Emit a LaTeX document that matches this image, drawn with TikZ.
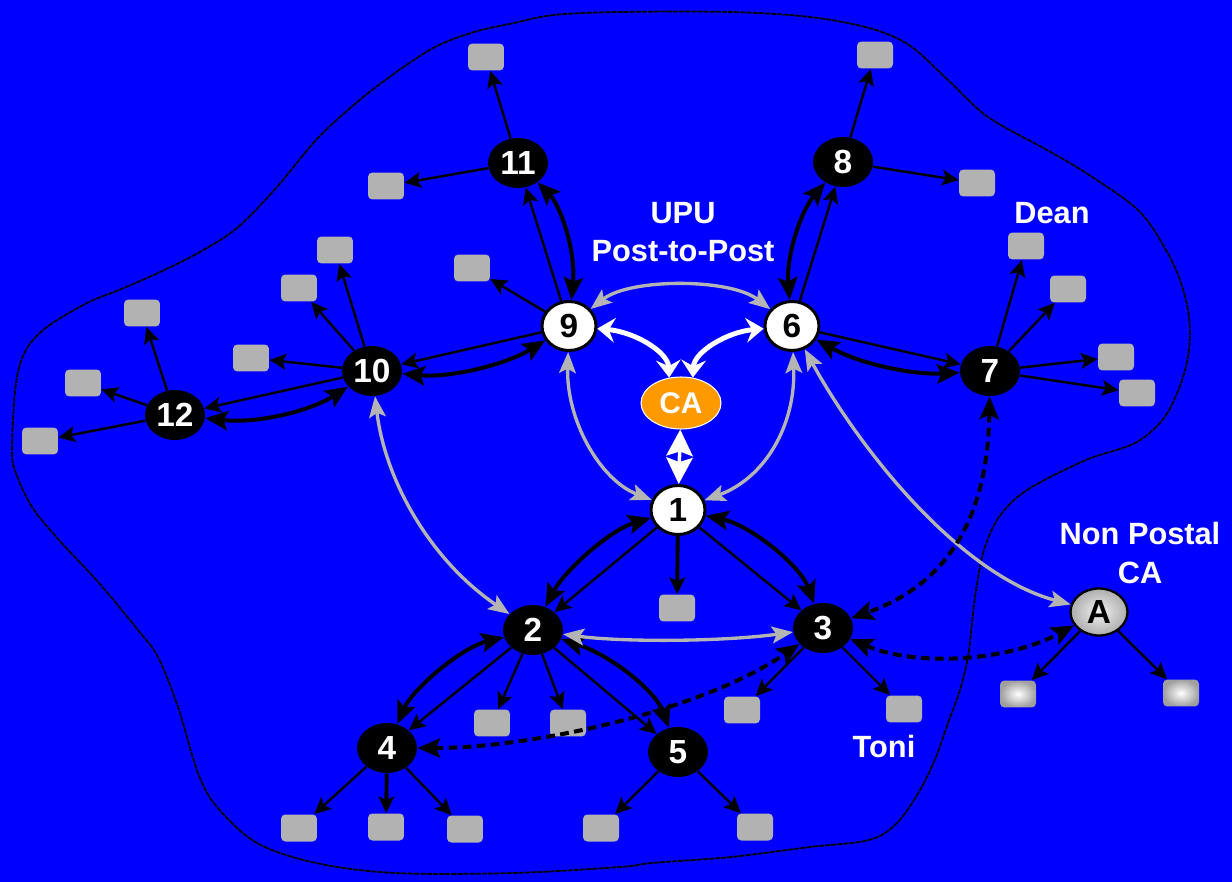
\documentclass[tikz,border=0pt]{standalone}
\usepackage{fontspec}
\setmainfont{Liberation Sans}
\usepackage{pgf,tikz}
\usetikzlibrary{arrows.meta}
\usetikzlibrary{shapes.geometric}

\definecolor{upublue}{RGB}{0,0,255}
\definecolor{boxgray}{RGB}{178,178,178}
\definecolor{trustgray}{RGB}{180,180,180}
\definecolor{caorange}{RGB}{255,153,0}

\begin{document}
\begin{tikzpicture}[x=0.02cm,y=-0.02cm,
  office/.style={ellipse,fill=black,text=white,minimum width=1.2cm,minimum height=1cm,inner sep=0pt,font=\fontsize{19}{19}\selectfont\bfseries},
  hub/.style={ellipse,fill=white,draw=black,line width=1.7pt,text=black,minimum width=1.08cm,minimum height=0.98cm,inner sep=0pt,font=\fontsize{19}{19}\selectfont\bfseries},
  caoval/.style={ellipse,fill=caorange,draw=white,line width=0.6pt,text=white,minimum width=1.6cm,minimum height=1.04cm,inner sep=0pt,font=\fontsize{17}{17}\selectfont\bfseries},
  foreign/.style={ellipse,inner color=gray!10,outer color=gray!65,draw=black,line width=1.3pt,minimum width=1.14cm,minimum height=0.94cm,inner sep=0pt,font=\fontsize{19}{19}\selectfont\bfseries},
  pc/.style={rectangle,rounded corners=2.5pt,fill=boxgray,minimum width=0.72cm,minimum height=0.54cm,inner sep=0pt},
  pcglow/.style={rectangle,rounded corners=2.5pt,inner color=white,outer color=gray!75,minimum width=0.72cm,minimum height=0.54cm,inner sep=0pt},
  lbl/.style={text=white,align=center,font=\fontsize{17.5}{22}\selectfont\bfseries},
  leaf/.style={-{Stealth[length=9.5pt,width=9pt,inset=2pt]},line width=1.4pt},
  pair/.style={{Stealth[length=13pt,width=11pt,inset=2.5pt]}-{Stealth[length=13pt,width=11pt,inset=2.5pt]},line width=2.3pt},
  trust/.style={{Stealth[length=12pt,width=9.5pt,inset=2.5pt]}-{Stealth[length=12pt,width=9.5pt,inset=2.5pt]},line width=1.9pt,draw=trustgray},
  crossca/.style={{Stealth[length=13pt,width=11pt,inset=2.5pt]}-{Stealth[length=13pt,width=11pt,inset=2.5pt]},line width=2.3pt,dash pattern=on 5pt off 3pt},
  rootlink/.style={{Stealth[length=10pt,width=14pt,inset=3.5pt]}-{Stealth[length=10pt,width=14pt,inset=3.5pt]},line width=2.8pt,draw=white}]

\fill[upublue] (0,0) rectangle (1232,882);
\useasboundingbox (0,0) rectangle (1232,882);

% postal domain
\draw[line width=1pt,dash pattern=on 3pt off 0.5pt] plot[smooth cycle,tension=0.55] coordinates {
  (12,450) (16,383) (26,350) (47,327) (87,303) (119,290) (158,273) (198,253) (237,228)
  (277,187) (316,140) (356,103) (395,73) (435,47) (474,32) (514,23) (554,15) (620,12)
  (731,12) (810,17) (869,28) (909,45) (948,80) (988,117) (1047,150) (1086,173) (1138,210)
  (1166,250) (1181,283) (1189,317) (1189,350) (1181,383) (1164,418) (1135,443) (1086,460)
  (1027,490) (999,517) (984,550) (976,590) (972,623) (968,657) (960,690) (948,723) (936,757)
  (920,790) (897,823) (869,840) (810,847) (731,857) (652,863) (620,867) (514,873) (395,873)
  (316,863) (257,843) (217,807) (198,773) (178,707) (158,657) (138,630) (99,583) (59,540)
  (32,507) (16,473)};

\node[hub] (n9) at (569,326) {9};
\node[hub] (n6) at (792,326) {6};
\node[hub] (n1) at (678,510) {1};
\node[caoval] (ca) at (681,403) {CA};
\node[office] (n11) at (518,163) {11};
\node[office] (n8) at (843,162) {8};
\node[office] (n10) at (372,371) {10};
\node[office] (n12) at (175,415) {12};
\node[office] (n7) at (990,371) {7};
\node[office] (n2) at (533,630) {2};
\node[office] (n3) at (823,628) {3};
\node[office] (n4) at (387,748) {4};
\node[office] (n5) at (678,752) {5};
\node[foreign] (na) at (1099,612) {A};

\node[pc] (b11a) at (486,57) {};
\node[pc] (b11b) at (386,186) {};
\node[pc] (b9) at (472,268) {};
\node[pc] (b10a) at (335,250) {};
\node[pc] (b10b) at (299,288) {};
\node[pc] (b10c) at (251,358) {};
\node[pc] (b12a) at (142,313) {};
\node[pc] (b12b) at (83,383) {};
\node[pc] (b12c) at (40,441) {};
\node[pc] (b8a) at (875,55) {};
\node[pc] (b8b) at (977,183) {};
\node[pc] (b7a) at (1026,246) {};
\node[pc] (b7b) at (1068,289) {};
\node[pc] (b7c) at (1116,357) {};
\node[pc] (b7d) at (1137,393) {};
\node[pc] (b1) at (677,608) {};
\node[pc] (b2a) at (492,723) {};
\node[pc] (b2b) at (568,723) {};
\node[pc] (b3a) at (742,710) {};
\node[pc] (b3b) at (904,709) {};
\node[pc] (b4a) at (299,828) {};
\node[pc] (b4b) at (386,827) {};
\node[pc] (b4c) at (465,829) {};
\node[pc] (b5a) at (601,828) {};
\node[pc] (b5b) at (755,827) {};
\node[pcglow] (bAa) at (1018,694) {};
\node[pcglow] (bAb) at (1181,693) {};

\node[lbl] (upu) at (683,232) {UPU\\Post-to-Post};
\node[lbl] (dean) at (1052,213) {Dean};
\node[lbl] (toni) at (884,747) {Toni};
\node[lbl] (npca) at (1140,553) {Non Postal\\CA};

% offices to their users
\draw[leaf] (n11) -- (b11a);
\draw[leaf] (n11) -- (b11b);
\draw[leaf] (n9) -- (b9);
\draw[leaf] (n10) -- (b10a);
\draw[leaf] (n10) -- (b10b);
\draw[leaf] (n10) -- (b10c);
\draw[leaf] (n12) -- (b12a);
\draw[leaf] (n12) -- (b12b);
\draw[leaf] (n12) -- (b12c);
\draw[leaf] (n8) -- (b8a);
\draw[leaf] (n8) -- (b8b);
\draw[leaf] (n7) -- (b7a);
\draw[leaf] (n7) -- (b7b);
\draw[leaf] (n7) -- (b7c);
\draw[leaf] (n7) -- (b7d);
\draw[leaf,line width=2.2pt] (n1) -- (b1);
\draw[leaf] (n2) -- (b2a);
\draw[leaf] (n2) -- (b2b);
\draw[leaf] (n3) -- (b3a);
\draw[leaf] (n3) -- (b3b);
\draw[leaf] (n4) -- (b4a);
\draw[leaf,line width=2.2pt] (n4) -- (b4b);
\draw[leaf] (n4) -- (b4c);
\draw[leaf] (n5) -- (b5a);
\draw[leaf] (n5) -- (b5b);
\draw[leaf] (na) -- (bAa);
\draw[leaf] (na) -- (bAb);

% office to office
\draw[leaf] (n9) -- (n11);
\draw[pair] (n11) .. controls (560,205) and (576,250) .. (n9);
\draw[leaf] (n9) -- (n10);
\draw[pair] (n10) .. controls (450,378) and (505,365) .. (n9);
\draw[leaf] (n10) -- (n12);
\draw[pair] (n12) .. controls (260,424) and (312,410) .. (n10);
\draw[leaf] (n6) -- (n8);
\draw[pair] (n8) .. controls (800,212) and (786,258) .. (n6);
\draw[leaf] (n6) -- (n7);
\draw[pair] (n6) .. controls (862,365) and (915,375) .. (n7);
\draw[leaf] (n1) -- (n2);
\draw[pair] (n2) .. controls (565,570) and (610,530) .. (n1);
\draw[leaf] (n1) -- (n3);
\draw[pair] (n1) .. controls (750,525) and (800,565) .. (n3);
\draw[leaf] (n2) -- (n4);
\draw[pair] (n2) .. controls (460,648) and (412,690) .. (n4);
\draw[leaf] (n2) -- (n5);
\draw[pair] (n2) .. controls (610,655) and (655,690) .. (n5);

% cross certification
\draw[trust] (n9) .. controls (630,278) and (730,278) .. (n6);
\draw[trust] (n9) .. controls (566,420) and (600,480) .. (n1);
\draw[trust] (n6) .. controls (796,425) and (765,478) .. (n1);
\draw[trust] (n10) .. controls (385,480) and (430,560) .. (n2);
\draw[trust] (n2) .. controls (620,642) and (720,642) .. (n3);
\draw[trust] (n6) .. controls (860,450) and (960,575) .. (na);
\draw[crossca] (n7) .. controls (988,500) and (960,580) .. (n3);
\draw[crossca] (n3) .. controls (920,668) and (1010,660) .. (na);
\draw[crossca] (n4) .. controls (530,748) and (700,712) .. (n3);

% root CA
\draw[rootlink] (ca.115) .. controls (668,352) and (635,332) .. (n9);
\draw[rootlink] (ca.65) .. controls (694,352) and (727,332) .. (n6);
\draw[white,line width=2pt,{Stealth[length=15pt,width=15pt,inset=2.5pt]}-{Stealth[length=15pt,width=15pt,inset=2.5pt]}] (ca) -- (n1);
\end{tikzpicture}
\end{document}
